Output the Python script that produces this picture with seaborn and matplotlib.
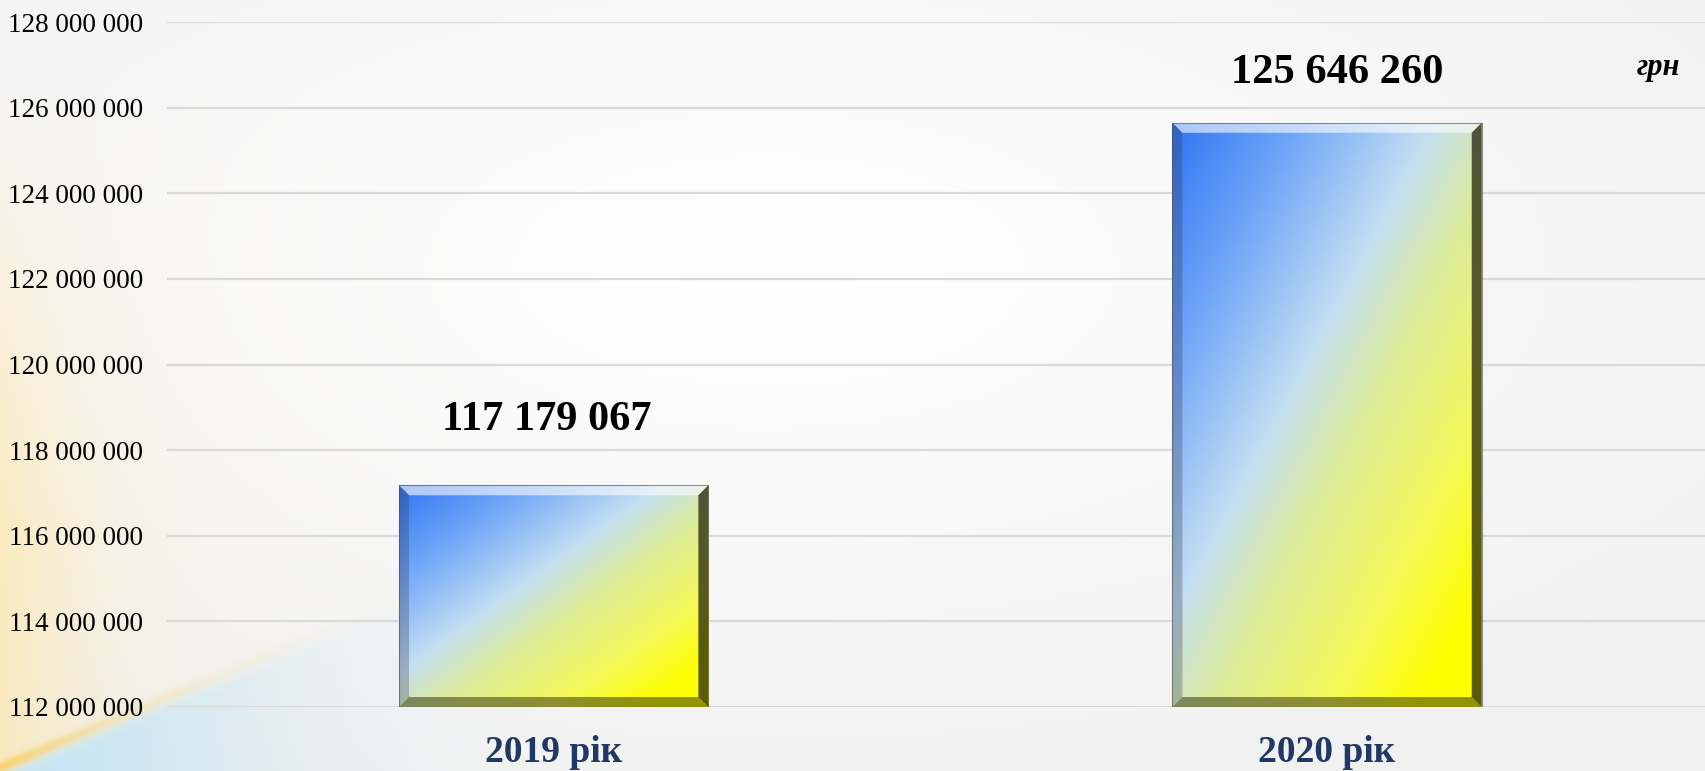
import numpy as np
import pandas as pd
import matplotlib
matplotlib.use("Agg")
import matplotlib.pyplot as plt
import seaborn as sns
from matplotlib.colors import LinearSegmentedColormap, to_rgb
from matplotlib.patches import Polygon

# ---- data ----
years = ["2019 рік", "2020 рік"]
amounts = [117179067, 125646260]
y_ticks = list(range(112_000_000, 128_000_001, 2_000_000))
unit_label = "грн"

# ---- style ----
sns.set_theme(style="white")
plt.rcParams["font.family"] = ["Liberation Serif", "DejaVu Serif"]

W, H = 1706, 771
AX_LEFT, AX_BOTTOM, AX_TOP = 167, 64, 22
NAVY = "#1f3864"
GRID = "#d9d9d9"
LABEL_OFFSETS = [(-5, 47), (7, 36)]   # value-label offsets in points
BEVEL_PX = 10

bar_cmap = LinearSegmentedColormap.from_list(
    "ua", [(0.0, "#2f76f2"), (0.2, "#6ea5f8"), (0.42, "#c2def2"),
           (0.56, "#dcec9a"), (0.75, "#f4f858"), (0.9, "#ffff00"), (1.0, "#ffff00")])


def fmt(v):
    return f"{v:,.0f}".replace(",", " ")


fig = plt.figure(figsize=(W / 100, H / 100), dpi=100)

# ---- slide-like background ----
bg = fig.add_axes([0, 0, 1, 1], zorder=-10)
yy, xx = np.mgrid[0:H, 0:W].astype(float)
r = np.sqrt(((xx - W * 0.45) / W) ** 2 + ((yy - H * 0.35) / H) ** 2)
base = 1.0 - 0.055 * np.clip(r * 1.4, 0, 1)
img = np.dstack([base, base, base])

warm = np.exp(-xx / 100) * np.clip((yy - 80) / 450, 0, 1) * 0.7
img = img * (1 - warm[..., None]) + np.array(to_rgb("#fde6a8")) * warm[..., None]

curve = H + 2 - 0.42 * xx
edge = 1 / (1 + np.exp(-(yy - curve) / 4.0))
blue_a = edge * np.clip(0.95 * np.exp(-(xx / 260) ** 2), 0, 1)
img = img * (1 - blue_a[..., None]) + np.array(to_rgb("#c2e5f8")) * blue_a[..., None]

band = np.exp(-((yy - curve + 6) / 6) ** 2) * np.exp(-xx / 110) * 0.85
img = img * (1 - band[..., None]) + np.array(to_rgb("#f9cf5c")) * band[..., None]

bg.imshow(np.clip(img, 0, 1), aspect="auto", extent=(0, 1, 0, 1))
bg.axis("off")

# ---- chart ----
ax = fig.add_axes([AX_LEFT / W, AX_BOTTOM / H, (W - AX_LEFT) / W,
                   (H - AX_BOTTOM - AX_TOP) / H])
ax.patch.set_alpha(0)

df = pd.DataFrame({"year": years, "amount": amounts})
sns.barplot(data=df, x="year", y="amount", width=0.4, color="#ffff00",
            saturation=1, ax=ax, zorder=2)

ax.set_ylim(y_ticks[0], y_ticks[-1])
ax.set_xlim(-0.5, 1.49)
ax.set_yticks(y_ticks)
ax.set_yticklabels([fmt(t) for t in y_ticks])
ax.yaxis.grid(True, color=GRID, lw=1.6, zorder=0)
ax.xaxis.grid(False)
for s in ax.spines.values():
    s.set_visible(False)
ax.tick_params(axis="y", length=0, pad=17, labelsize=19.5, labelcolor="black")
ax.tick_params(axis="x", length=0, pad=20, labelsize=27, labelcolor=NAVY)
for lab in ax.get_xticklabels():
    lab.set_fontweight("bold")
ax.set_xlabel("")
ax.set_ylabel("")

# gradient fill + bevel for each bar
fig.canvas.draw()
ax_w_px = ax.get_window_extent().width
ax_h_px = ax.get_window_extent().height
xr = np.diff(ax.get_xlim())[0]
yr = np.diff(ax.get_ylim())[0]
dx = BEVEL_PX * xr / ax_w_px
dy = BEVEL_PX * yr / ax_h_px

n = 300
u = np.linspace(0, 1, n)[None, :]
v = np.linspace(0, 1, n)[:, None]
grad = (u + v) / 2

for patch in ax.patches:
    x0 = patch.get_x()
    x1 = x0 + patch.get_width()
    y1 = patch.get_height()
    y0 = ax.get_ylim()[0]
    patch.set_facecolor("none")
    patch.set_edgecolor("none")
    im = ax.imshow(grad, cmap=bar_cmap, extent=(x0, x1, y0, y1),
                   aspect="auto", zorder=3, interpolation="bilinear")
    im.set_clip_path(patch)
    bevels = [
        ([(x0, y1), (x1, y1), (x1 - dx, y1 - dy), (x0 + dx, y1 - dy)], "white", 0.6),
        ([(x0, y0), (x0, y1), (x0 + dx, y1 - dy), (x0 + dx, y0 + dy)], "#303048", 0.28),
        ([(x0, y0), (x1, y0), (x1 - dx, y0 + dy), (x0 + dx, y0 + dy)], "#3a3a10", 0.55),
        ([(x1, y1), (x1, y0), (x1 - dx, y0 + dy), (x1 - dx, y1 - dy)], "#1c1c08", 0.72),
    ]
    for pts, col, a in bevels:
        ax.add_patch(Polygon(pts, closed=True, facecolor=col, alpha=a,
                             edgecolor="none", zorder=4))
    ax.add_patch(plt.Rectangle((x0, y0), x1 - x0, y1 - y0, fill=False,
                               edgecolor="#505040", lw=0.8, alpha=0.6, zorder=5))

ax.set_xlim(-0.5, 1.49)
ax.set_ylim(y_ticks[0], y_ticks[-1])

for i, val in enumerate(amounts):
    ox, oy = LABEL_OFFSETS[i]
    ax.annotate(fmt(val), xy=(i, val), xytext=(ox, oy),
                textcoords="offset points", ha="center", va="center",
                fontsize=30.5, fontweight="bold", color="black", zorder=6)

fig.text(1658 / W, 1 - 68 / H, unit_label, ha="center", va="center",
         fontsize=22, fontweight="bold", fontstyle="italic", color="black")

fig.savefig("out.png", dpi=100)
